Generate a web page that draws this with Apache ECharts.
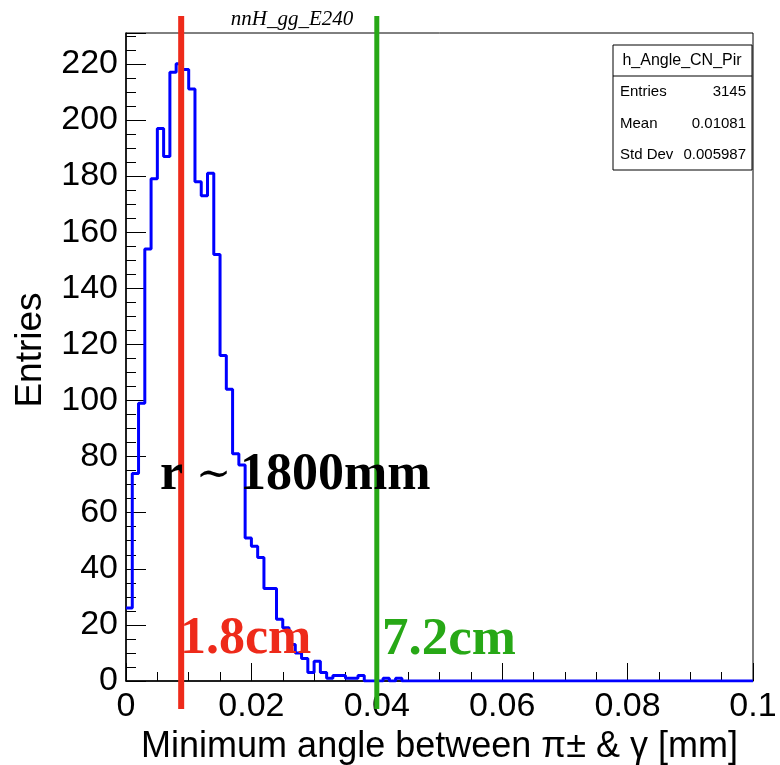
<!DOCTYPE html>
<html><head><meta charset="utf-8">
<script src="https://cdn.jsdelivr.net/npm/echarts/dist/echarts.min.js"></script>
<style>html,body{margin:0;padding:0;background:#fff}#c{width:780px;height:765px}</style>
</head><body><div id="c"></div>
<script>
// ---- data ----
const binWidth = 0.001;
const counts = [
  26, 74, 99, 154, 179, 197, 187, 217, 220, 218,
  211, 178, 173, 181, 152, 116, 104, 81, 77, 51,
  48, 44, 33, 33, 22, 19, 13, 10, 8, 3,
  7, 3, 1, 2, 2, 1, 1, 2, 0, 0,
  0, 1, 0, 1, 0, 0, 0, 0, 0, 0,
  0, 0, 0, 0, 0, 0, 0, 0, 0, 0,
  0, 0, 0, 0, 0, 0, 0, 0, 0, 0,
  0, 0, 0, 0, 0, 0, 0, 0, 0, 0,
  0, 0, 0, 0, 0, 0, 0, 0, 0, 0,
  0, 0, 0, 0, 0, 0, 0, 0, 0, 0
];
const xRange = [0, 0.1];
const xInterval = 0.02;
const yRange = [0, 231];
const yInterval = 20;
const cutValues = [0.0088, 0.04];
const cutLabels = ['1.8cm', '7.2cm'];
const cutColors = ['#ee2a1a', '#27a816'];
const histTitle = 'nnH_gg_E240';
const statsTitle = 'h_Angle_CN_Pir';
const statsNames = ['Entries', 'Mean', 'Std Dev'];
const statsValues = ['3145', '0.01081', '0.005987'];
const radiusParts = ['r', '\u223C', '1800mm'];
const xTitle = 'Minimum angle between \u03C0\u00B1 & \u03B3 [mm]';
const yTitle = 'Entries';

// ---- build ----
const pts = counts.map((v, i) => [i * binWidth, v]);
pts.push([counts.length * binWidth, counts[counts.length - 1]]);

const chart = echarts.init(document.getElementById('c'), null, {renderer: 'canvas'});
const sans = '"Liberation Sans", Arial, Helvetica, sans-serif';
const serif = '"Liberation Serif", "Times New Roman", serif';

chart.setOption({
  animation: false,
  backgroundColor: '#fff',
  grid: {left: 126, right: 27, top: 33, bottom: 84, show: true, borderColor: '#000', borderWidth: 1,
    backgroundColor: 'transparent', containLabel: false, outerBoundsMode: 'none'},
  xAxis: {
    type: 'value', min: xRange[0], max: xRange[1], interval: xInterval,
    name: xTitle, nameLocation: 'middle', nameGap: 43,
    nameTextStyle: {fontFamily: sans, fontSize: 36, color: '#000'},
    axisLine: {show: true, onZero: false, lineStyle: {color: '#000', width: 1.5}},
    axisTick: {show: true, inside: true, length: 18, lineStyle: {color: '#000', width: 1}},
    minorTick: {show: true, splitNumber: 4, length: 9, lineStyle: {color: '#000', width: 1}},
    splitLine: {show: false},
    axisLabel: {fontFamily: sans, fontSize: 34, color: '#000', margin: 9,
      formatter: v => String(+v.toFixed(4))}
  },
  yAxis: {
    type: 'value', min: yRange[0], max: yRange[1], interval: yInterval,
    axisLine: {show: true, onZero: false, lineStyle: {color: '#000', width: 1.5}},
    axisTick: {show: true, inside: true, length: 20, lineStyle: {color: '#000', width: 1}},
    minorTick: {show: true, splitNumber: 4, length: 10, lineStyle: {color: '#000', width: 1}},
    splitLine: {show: false},
    axisLabel: {fontFamily: sans, fontSize: 34, color: '#000', margin: 8, showMaxLabel: false}
  },
  series: [{
    type: 'line', data: pts, step: 'end', symbol: 'none',
    lineStyle: {color: '#0000ff', width: 3}, z: 3
  }]
});

// overlays positioned through the axis scales
const gx = cutValues.map(v => chart.convertToPixel({xAxisIndex: 0}, v));
const graphics = [];
gx.forEach((x, i) => {
  graphics.push({type: 'line', z: 50, shape: {x1: x, y1: 16, x2: x, y2: 709},
    style: {stroke: cutColors[i], lineWidth: i === 0 ? 6 : 5}});
});
graphics.push({type: 'text', z: 60, left: 160, top: 450,
  style: {
    text: '{r|' + radiusParts[0] + '}{t|' + radiusParts[1] + '}{b|' + radiusParts[2] + '}',
    rich: {
      r: {font: 'bold 52px ' + serif, fill: '#000', width: 36},
      t: {font: '42px "DejaVu Serif", ' + serif, fill: '#000', width: 44},
      b: {font: 'bold 52px ' + serif, fill: '#000'}
    }
  }});
graphics.push({type: 'text', z: 60, left: 180, top: 614,
  style: {text: cutLabels[0], font: 'bold 52px ' + serif, fill: cutColors[0]}});
graphics.push({type: 'text', z: 60, left: 382, top: 614,
  style: {text: cutLabels[1], font: 'bold 53px ' + serif, fill: cutColors[1]}});
graphics.push({type: 'text', z: 60, x: 292, y: 19,
  style: {text: histTitle, font: 'italic 21px ' + serif, fill: '#000', textAlign: 'center', textVerticalAlign: 'middle'}});
graphics.push({type: 'text', z: 60, x: 31, y: 350, rotation: Math.PI / 2,
  style: {text: yTitle, font: '37px ' + sans, fill: '#000', textAlign: 'center', textVerticalAlign: 'middle'}});
// stats box
graphics.push({type: 'rect', z: 70, shape: {x: 613, y: 45, width: 139, height: 125},
  style: {fill: '#fff', stroke: '#000', lineWidth: 1}});
graphics.push({type: 'line', z: 71, shape: {x1: 613, y1: 76, x2: 752, y2: 76},
  style: {stroke: '#000', lineWidth: 1}});
graphics.push({type: 'text', z: 72, x: 682, y: 61,
  style: {text: statsTitle, font: '16px ' + sans, fill: '#000', textAlign: 'center', textVerticalAlign: 'middle'}});
statsNames.forEach((n, i) => {
  const y = 92 + i * 31.5;
  graphics.push({type: 'text', z: 72, x: 620, y: y,
    style: {text: n, font: '15px ' + sans, fill: '#000', textAlign: 'left', textVerticalAlign: 'middle'}});
  graphics.push({type: 'text', z: 72, x: 746, y: y,
    style: {text: statsValues[i], font: '15px ' + sans, fill: '#000', textAlign: 'right', textVerticalAlign: 'middle'}});
});
chart.setOption({graphic: graphics});
</script>
</body></html>
